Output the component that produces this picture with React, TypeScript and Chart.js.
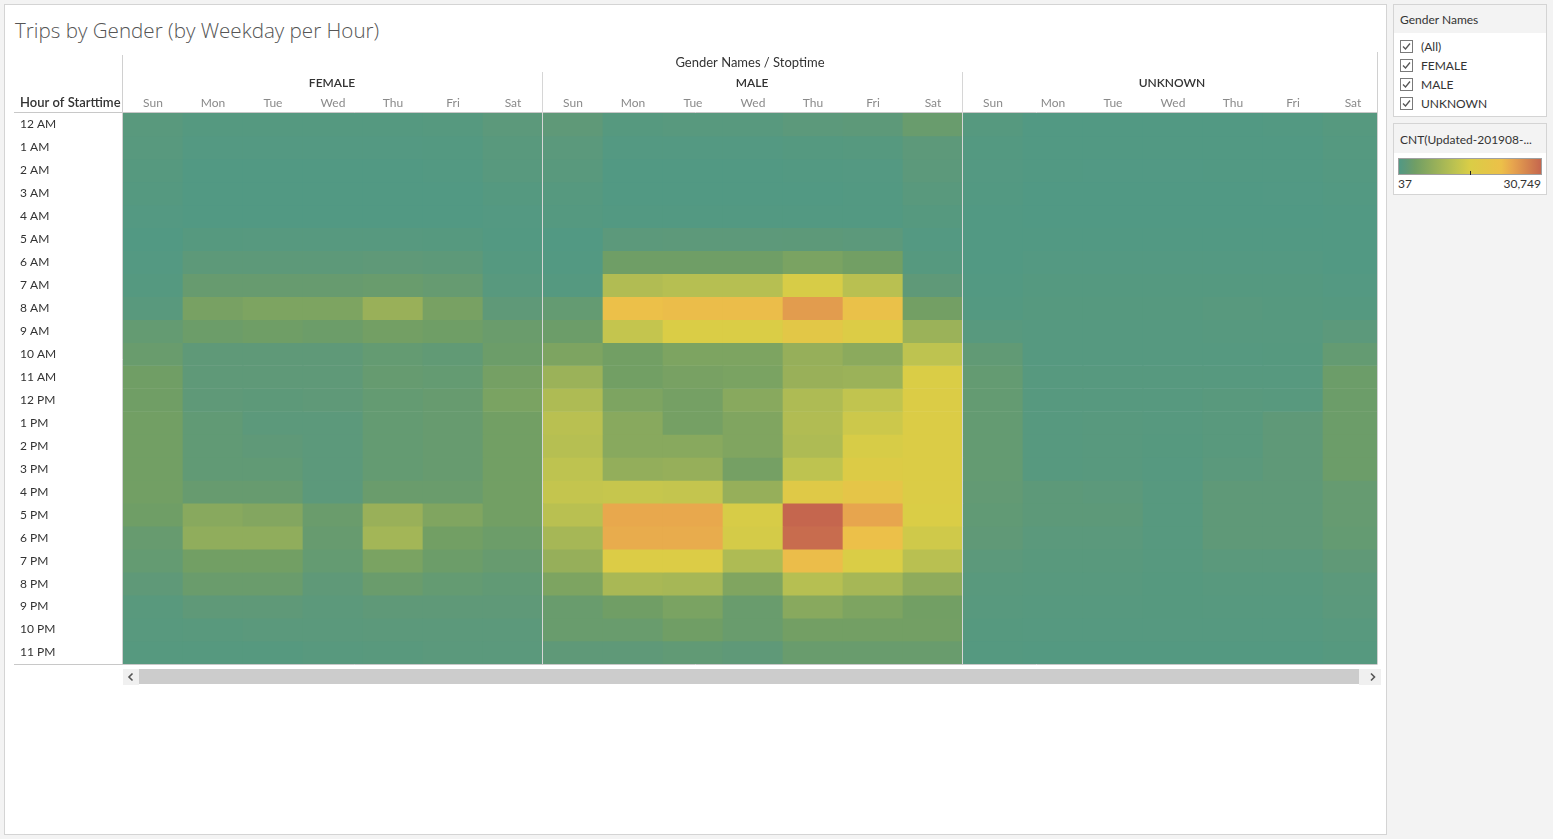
import React, { useEffect, useRef } from "react";
import { Chart, registerables } from "chart.js";

Chart.register(...registerables);

const chartTitle = "Trips by Gender (by Weekday per Hour)";
const genders = ["FEMALE", "MALE", "UNKNOWN"];
const weekdays = ["Sun", "Mon", "Tue", "Wed", "Thu", "Fri", "Sat"];
const hourLabels = [
  "12 AM", "1 AM", "2 AM", "3 AM", "4 AM", "5 AM", "6 AM", "7 AM", "8 AM", "9 AM", "10 AM", "11 AM",
  "12 PM", "1 PM", "2 PM", "3 PM", "4 PM", "5 PM", "6 PM", "7 PM", "8 PM", "9 PM", "10 PM", "11 PM",
];

// trip counts per hour (rows) and weekday Sun..Sat (columns)
const femaleCounts = [
  [960, 500, 500, 500, 500, 650, 1270],
  [805, 345, 345, 345, 345, 405, 960],
  [650, 190, 190, 190, 190, 280, 805],
  [500, 190, 190, 190, 190, 190, 500],
  [345, 190, 190, 190, 190, 190, 345],
  [190, 650, 720, 720, 720, 650, 280],
  [345, 1420, 1420, 1420, 1570, 1420, 500],
  [500, 2490, 2490, 2490, 2740, 2340, 805],
  [960, 4340, 4950, 4950, 8020, 4340, 1570],
  [2190, 3110, 3420, 3110, 3810, 3420, 2800],
  [2740, 1570, 1570, 1570, 2190, 1880, 3110],
  [3500, 1570, 1570, 1570, 2370, 2190, 4030],
  [3500, 1570, 1420, 1570, 2190, 2490, 4640],
  [3720, 1880, 1270, 1270, 2190, 2490, 3720],
  [3720, 1880, 1570, 1270, 2190, 2490, 3720],
  [3720, 1880, 1880, 1270, 2190, 2490, 3720],
  [3720, 2490, 2490, 1270, 2800, 2800, 3720],
  [3420, 6180, 5560, 2800, 8020, 5260, 3720],
  [2490, 7100, 7100, 2490, 9250, 3720, 3110],
  [2190, 3720, 3720, 2190, 4640, 3110, 2490],
  [1570, 2800, 2800, 1570, 2800, 2190, 1880],
  [960, 1570, 1570, 1270, 1570, 1570, 1570],
  [805, 960, 1110, 1110, 1270, 1270, 1270],
  [650, 650, 650, 805, 960, 1110, 1110],
];

const maleCounts = [
  [1570, 650, 805, 805, 1270, 1420, 2740],
  [1110, 345, 345, 345, 500, 650, 1380],
  [960, 190, 190, 190, 280, 345, 1270],
  [650, 190, 190, 190, 190, 280, 960],
  [500, 280, 280, 280, 280, 280, 650],
  [190, 1270, 1330, 1330, 1420, 1270, 345],
  [280, 3420, 3420, 3420, 4640, 3720, 650],
  [500, 10790, 11400, 11400, 15090, 11710, 1570],
  [2190, 22150, 22460, 22460, 25530, 21540, 3810],
  [3110, 12940, 15390, 15390, 18460, 16010, 8330],
  [4950, 3720, 4950, 4950, 7720, 6490, 12320],
  [8330, 3720, 4340, 4640, 8020, 8330, 15390],
  [10480, 4950, 4030, 6180, 10480, 12630, 15700],
  [11710, 6180, 4030, 5250, 10790, 13860, 15700],
  [11400, 6180, 6180, 5250, 10480, 15090, 15700],
  [12320, 7410, 7720, 4030, 12320, 16310, 15700],
  [12940, 13240, 12940, 7720, 17240, 19380, 15700],
  [11710, 24300, 24300, 15090, 30749, 24610, 15390],
  [9560, 23990, 24000, 14780, 30130, 22150, 14170],
  [7720, 16010, 16010, 10480, 22460, 15390, 11710],
  [4950, 9860, 9560, 5250, 11400, 9560, 6790],
  [2740, 3500, 4640, 2740, 6180, 4950, 3720],
  [2740, 2740, 3500, 2740, 3810, 3810, 3810],
  [1570, 1570, 1880, 1570, 2740, 2740, 2740],
];

const unknownCounts = [
  [650, 190, 190, 190, 190, 280, 650],
  [405, 130, 130, 130, 130, 160, 500],
  [345, 110, 100, 100, 110, 130, 405],
  [280, 80, 70, 70, 80, 100, 280],
  [190, 60, 37, 50, 55, 70, 190],
  [130, 190, 190, 190, 190, 190, 130],
  [190, 345, 345, 345, 345, 345, 190],
  [280, 500, 500, 500, 500, 500, 345],
  [405, 650, 650, 650, 805, 650, 500],
  [805, 590, 590, 590, 720, 720, 1270],
  [1880, 620, 620, 620, 620, 650, 2190],
  [2190, 680, 680, 680, 700, 700, 3110],
  [2190, 720, 720, 720, 960, 805, 3110],
  [2190, 720, 805, 720, 960, 1570, 3110],
  [2190, 720, 805, 650, 960, 1570, 3110],
  [2190, 720, 805, 590, 1110, 1570, 3110],
  [2030, 1420, 1270, 720, 1570, 1570, 2340],
  [1880, 1420, 1420, 720, 1570, 1570, 2340],
  [1730, 1110, 1110, 720, 1570, 1570, 2190],
  [1270, 960, 960, 720, 1110, 1110, 1730],
  [960, 805, 805, 650, 805, 805, 1270],
  [805, 720, 720, 650, 720, 720, 1110],
  [650, 590, 590, 590, 590, 590, 805],
  [500, 405, 405, 405, 405, 405, 650],
];

const minCount = 37;
const maxCount = 30749;
const filterItems = ["(All)", "FEMALE", "MALE", "UNKNOWN"];

const colorStops: [number, number[]][] = [
  [0, [81, 153, 132]],
  [0.051, [95, 153, 120]],
  [0.113, [112, 158, 101]],
  [0.25, [150, 175, 90]],
  [0.4, [190, 195, 80]],
  [0.5, [218, 205, 70]],
  [0.72, [236, 192, 73]],
  [0.8, [231, 165, 78]],
  [1, [197, 102, 78]],
];

function colorAt(t: number): string {
  const tt = Math.max(0, Math.min(1, t));
  for (let i = 1; i < colorStops.length; i++) {
    const [t1, c1] = colorStops[i];
    const [t0, c0] = colorStops[i - 1];
    if (tt <= t1) {
      const f = (tt - t0) / (t1 - t0);
      const c = c0.map((v, k) => Math.round(v + (c1[k] - v) * f));
      return `rgb(${c[0]},${c[1]},${c[2]})`;
    }
  }
  const l = colorStops[colorStops.length - 1][1];
  return `rgb(${l[0]},${l[1]},${l[2]})`;
}

function colorFor(v: number): string {
  return colorAt((v - minCount) / (maxCount - minCount));
}

const FONT = "Lato, 'Open Sans', sans-serif";

const headerPlugin = {
  id: "tableauHeaders",
  afterDatasetsDraw(chart: any) {
    const { ctx, chartArea, scales } = chart;
    const xs = scales.x;
    const { left, right, top, bottom } = chartArea;
    const clipRight = right - 6;
    ctx.save();
    ctx.lineWidth = 1;
    const line = (x1: number, y1: number, x2: number, y2: number, color: string) => {
      ctx.strokeStyle = color;
      ctx.beginPath();
      ctx.moveTo(x1, y1);
      ctx.lineTo(x2, y2);
      ctx.stroke();
    };
    const lx = Math.round(left) - 0.5;
    const rx = Math.round(clipRight) + 0.5;
    ctx.fillStyle = "#ffffff";
    ctx.fillRect(rx + 0.5, 0, 40, chart.height);
    line(0, Math.round(top) - 0.5, rx, Math.round(top) - 0.5, "#c8c8c8");
    line(0, Math.round(bottom) + 0.5, rx, Math.round(bottom) + 0.5, "#c8c8c8");
    line(lx, 3, lx, Math.round(bottom), "#d0d0d0");
    line(rx, 0, rx, Math.round(bottom), "#d0d0d0");
    for (let g = 1; g < genders.length; g++) {
      const px = Math.round(xs.getPixelForValue(g * weekdays.length - 0.5)) - 0.5;
      line(px, 20, px, Math.round(bottom), "#d6d6d6");
    }
    ctx.fillStyle = "#333333";
    ctx.textBaseline = "middle";
    ctx.textAlign = "center";
    ctx.font = `600 12px ${FONT}`;
    genders.forEach((g, gi) => {
      const cx = xs.getPixelForValue(gi * weekdays.length + 3) - 1;
      ctx.fillText(g, cx, 31);
    });
    ctx.font = `400 13px ${FONT}`;
    ctx.fillText("Gender Names / Stoptime", (left + clipRight) / 2, 11);
    ctx.textAlign = "left";
    ctx.font = `600 13px ${FONT}`;
    ctx.fillText("Hour of Starttime", 6, 51);
    ctx.restore();
  },
};

function Check() {
  return (
    <svg width="13" height="13" style={{ position: "absolute", left: 0, top: 0 }}>
      <rect x="0.5" y="0.5" width="12" height="12" fill="#fff" stroke="#7a7a7a" />
      <polyline points="3,6.5 5.5,9 10,3.5" fill="none" stroke="#555" strokeWidth="1.3" />
    </svg>
  );
}

export default function App() {
  const ref = useRef<HTMLCanvasElement | null>(null);

  useEffect(() => {
    if (!ref.current) return;
    const grids = [femaleCounts, maleCounts, unknownCounts];
    const columns = genders.flatMap(() => weekdays);
    const datasets = hourLabels.map((h, hi) => ({
      label: h,
      data: columns.map(() => [hi, hi + 1]),
      backgroundColor: columns.map((_, ci) => colorFor(grids[Math.floor(ci / 7)][hi][ci % 7])),
      borderWidth: 0,
      barPercentage: 1,
      categoryPercentage: 1,
      grouped: false,
    }));
    const chart = new Chart(ref.current, {
      type: "bar",
      data: { labels: columns, datasets: datasets as any },
      options: {
        animation: false,
        responsive: true,
        maintainAspectRatio: false,
        layout: { padding: { left: 6, right: 9, top: 0, bottom: 8 } },
        plugins: { legend: { display: false }, tooltip: { enabled: false } },
        scales: {
          x: {
            type: "category",
            position: "top",
            offset: true,
            grid: { display: false, drawTicks: false },
            border: { display: false },
            ticks: {
              color: "#8a8a8a",
              font: { family: FONT, size: 12 },
              padding: 3,
              maxRotation: 0,
              autoSkip: false,
            },
            afterFit: (s: any) => {
              s.height = 61;
            },
          },
          y: {
            type: "linear",
            min: 0,
            max: hourLabels.length,
            reverse: true,
            grid: { display: false, drawTicks: false },
            border: { display: false },
            afterBuildTicks: (s: any) => {
              s.ticks = hourLabels.map((_, i) => ({ value: i + 0.5 }));
            },
            ticks: {
              autoSkip: false,
              crossAlign: "far",
              color: "#333333",
              font: { family: FONT, size: 12 },
              padding: 0,
              callback: (v: any) => hourLabels[Math.floor(Number(v))],
            },
            afterFit: (s: any) => {
              s.width = 103;
            },
          },
        },
      } as any,
      plugins: [headerPlugin],
    });
    return () => chart.destroy();
  }, []);

  const gradient = `linear-gradient(to right, ${colorStops
    .map(([t]) => `${colorAt(t)} ${(t * 100).toFixed(1)}%`)
    .join(", ")})`;

  return (
    <div
      style={{
        position: "fixed",
        left: 0,
        top: 0,
        width: 1553,
        height: 839,
        background: "#f3f3f3",
        overflow: "hidden",
        fontFamily: FONT,
      }}
    >
      <div
        style={{
          position: "absolute",
          left: 4,
          top: 4,
          width: 1383,
          height: 831,
          boxSizing: "border-box",
          background: "#fff",
          border: "1px solid #d4d4d4",
        }}
      />
      <div
        style={{
          position: "absolute",
          left: 15,
          top: 16,
          fontSize: 20.6,
          lineHeight: "28px",
          color: "#555",
          fontWeight: 300,
          fontFamily: "'Open Sans', Lato, sans-serif",
          whiteSpace: "nowrap",
        }}
      >
        {chartTitle}
      </div>
      <div style={{ position: "absolute", left: 14, top: 52, width: 1364, height: 620, overflow: "hidden" }}>
        <div style={{ position: "relative", width: 1378, height: 620 }}>
          <canvas ref={ref} />
        </div>
      </div>
      {/* scrollbar */}
      <div style={{ position: "absolute", left: 123, top: 669, width: 16, height: 16, background: "#f0f0f0" }}>
        <svg width="16" height="16">
          <polyline points="9.5,4.5 6,8 9.5,11.5" fill="none" stroke="#555" strokeWidth="1.6" />
        </svg>
      </div>
      <div style={{ position: "absolute", left: 139, top: 669, width: 1220, height: 15, background: "#cccccc" }} />
      <div style={{ position: "absolute", left: 1359, top: 669, width: 22, height: 16, background: "#f0f0f0" }}>
        <svg width="22" height="16">
          <polyline points="12,4.5 15.5,8 12,11.5" fill="none" stroke="#555" strokeWidth="1.6" />
        </svg>
      </div>
      {/* filter panel */}
      <div
        style={{
          position: "absolute",
          left: 1393,
          top: 4,
          width: 154,
          height: 113,
          boxSizing: "border-box",
          border: "1px solid #d4d4d4",
          background: "#fff",
        }}
      >
        <div style={{ height: 28, background: "#f3f3f3", position: "relative" }}>
          <div style={{ position: "absolute", left: 6, top: 8, fontSize: 12, color: "#333", lineHeight: "14px" }}>
            Gender Names
          </div>
        </div>
        {filterItems.map((it, i) => (
          <div key={it} style={{ position: "absolute", left: 6, top: 35 + i * 19, height: 14, width: 140 }}>
            <Check />
            <div
              style={{
                position: "absolute",
                left: 21,
                top: 0,
                fontSize: 12,
                lineHeight: "14px",
                color: "#333",
                whiteSpace: "nowrap",
              }}
            >
              {it}
            </div>
          </div>
        ))}
      </div>
      {/* color legend */}
      <div
        style={{
          position: "absolute",
          left: 1393,
          top: 123,
          width: 154,
          height: 72,
          boxSizing: "border-box",
          border: "1px solid #d4d4d4",
          background: "#fff",
        }}
      >
        <div style={{ height: 29, background: "#f3f3f3", position: "relative" }}>
          <div
            style={{
              position: "absolute",
              left: 6,
              top: 9,
              fontSize: 12,
              color: "#333",
              lineHeight: "14px",
              whiteSpace: "nowrap",
            }}
          >
            CNT(Updated-201908-...
          </div>
        </div>
        <div
          style={{
            position: "absolute",
            left: 4,
            top: 34,
            width: 144,
            height: 17,
            boxSizing: "border-box",
            border: "1px solid #a0a0a0",
            background: gradient,
          }}
        />
        <div style={{ position: "absolute", left: 76, top: 47, width: 1, height: 4, background: "#222" }} />
        <div style={{ position: "absolute", left: 4, top: 53, fontSize: 12, color: "#333", lineHeight: "14px" }}>
          {minCount}
        </div>
        <div
          style={{
            position: "absolute",
            right: 5,
            top: 53,
            fontSize: 12,
            color: "#333",
            lineHeight: "14px",
          }}
        >
          {maxCount.toLocaleString("en-US")}
        </div>
      </div>
    </div>
  );
}
